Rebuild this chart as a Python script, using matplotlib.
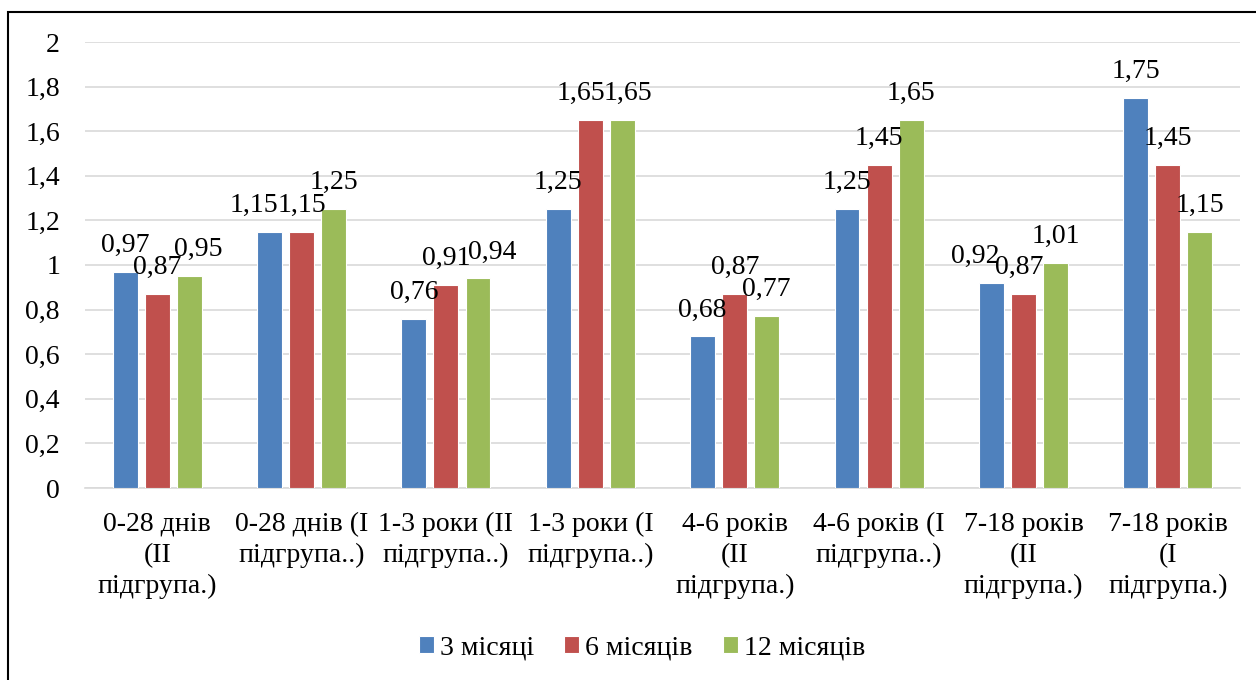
import matplotlib.pyplot as plt
import numpy as np
from matplotlib.patches import Rectangle

plt.rcParams['font.family'] = ['Liberation Serif', 'DejaVu Serif']

categories = ['0-28 днів\n(II\nпідгрупа.)', '0-28 днів (I\nпідгрупа..)',
              '1-3 роки (II\nпідгрупа..)', '1-3 роки (I\nпідгрупа..)',
              '4-6 років\n(II\nпідгрупа.)', '4-6 років (I\nпідгрупа..)',
              '7-18 років\n(II\nпідгрупа.)', '7-18 років\n(I\nпідгрупа.)']
series_names = ['3 місяці', '6 місяців', '12 місяців']
m3 = [0.97, 1.15, 0.76, 1.25, 0.68, 1.25, 0.92, 1.75]
m6 = [0.87, 1.15, 0.91, 1.65, 0.87, 1.45, 0.87, 1.45]
m12 = [0.95, 1.25, 0.94, 1.65, 0.77, 1.65, 1.01, 1.15]
colors = ['#4F81BD', '#C0504D', '#9BBB59']

# sideways shift (pixels) for labels that would collide: (series, group) -> dx
nudge = {(2, 0): 9, (0, 1): -16, (2, 2): 14, (1, 3): -9, (2, 3): 6,
         (0, 6): -16, (1, 6): -4}

fig = plt.figure(figsize=(12.56, 6.8), dpi=100)
ax = fig.add_axes([85 / 1256, 1 - 488 / 680, 1155 / 1256, 446 / 680])

x = np.arange(len(categories))
w = 0.173
step = 0.222
for i, (vals, c, name) in enumerate(zip([m3, m6, m12], colors, series_names)):
    pos = x + (i - 1) * step
    bars = ax.bar(pos, vals, w, color=c, edgecolor='white', linewidth=0.8,
                  label=name, zorder=3)
    for j, (b, v) in enumerate(zip(bars, vals)):
        dx = nudge.get((i, j), 0) * 0.72
        ax.annotate(f'{v:g}'.replace('.', ','), (b.get_x() + b.get_width() / 2, v),
                    xytext=(dx, 10), textcoords='offset points',
                    ha='center', va='bottom', fontsize=20, zorder=4)

ax.set_xlim(-0.5, len(categories) - 0.5)
ax.set_ylim(0, 2)
ticks = np.arange(0, 2.01, 0.2)
ax.set_yticks(ticks)
ax.set_yticklabels([f'{t:g}'.replace('.', ',') for t in ticks])
ax.yaxis.grid(True, color='#D9D9D9', linewidth=1.2, zorder=0)
ax.set_xticks(x)
ax.set_xticklabels(categories, linespacing=1.32)
ax.tick_params(axis='both', length=0, labelsize=20)
ax.tick_params(axis='y', pad=18)
ax.tick_params(axis='x', pad=17)
for s in ['top', 'right', 'left']:
    ax.spines[s].set_visible(False)
ax.spines['bottom'].set_color('#D9D9D9')
ax.spines['bottom'].set_linewidth(1.2)

fig.legend(loc='center', bbox_to_anchor=(642 / 1256, 1 - 648 / 680), ncol=3,
           frameon=False, fontsize=20, handlelength=0.54, handleheight=0.54,
           handletextpad=0.22, columnspacing=1.08)

fig.patches.append(Rectangle((8 / 1256, -0.1), 1.2, 1.1 - 12 / 680,
                             transform=fig.transFigure, fill=False,
                             edgecolor='black', linewidth=1.5))

fig.savefig('out.png', dpi=100)
